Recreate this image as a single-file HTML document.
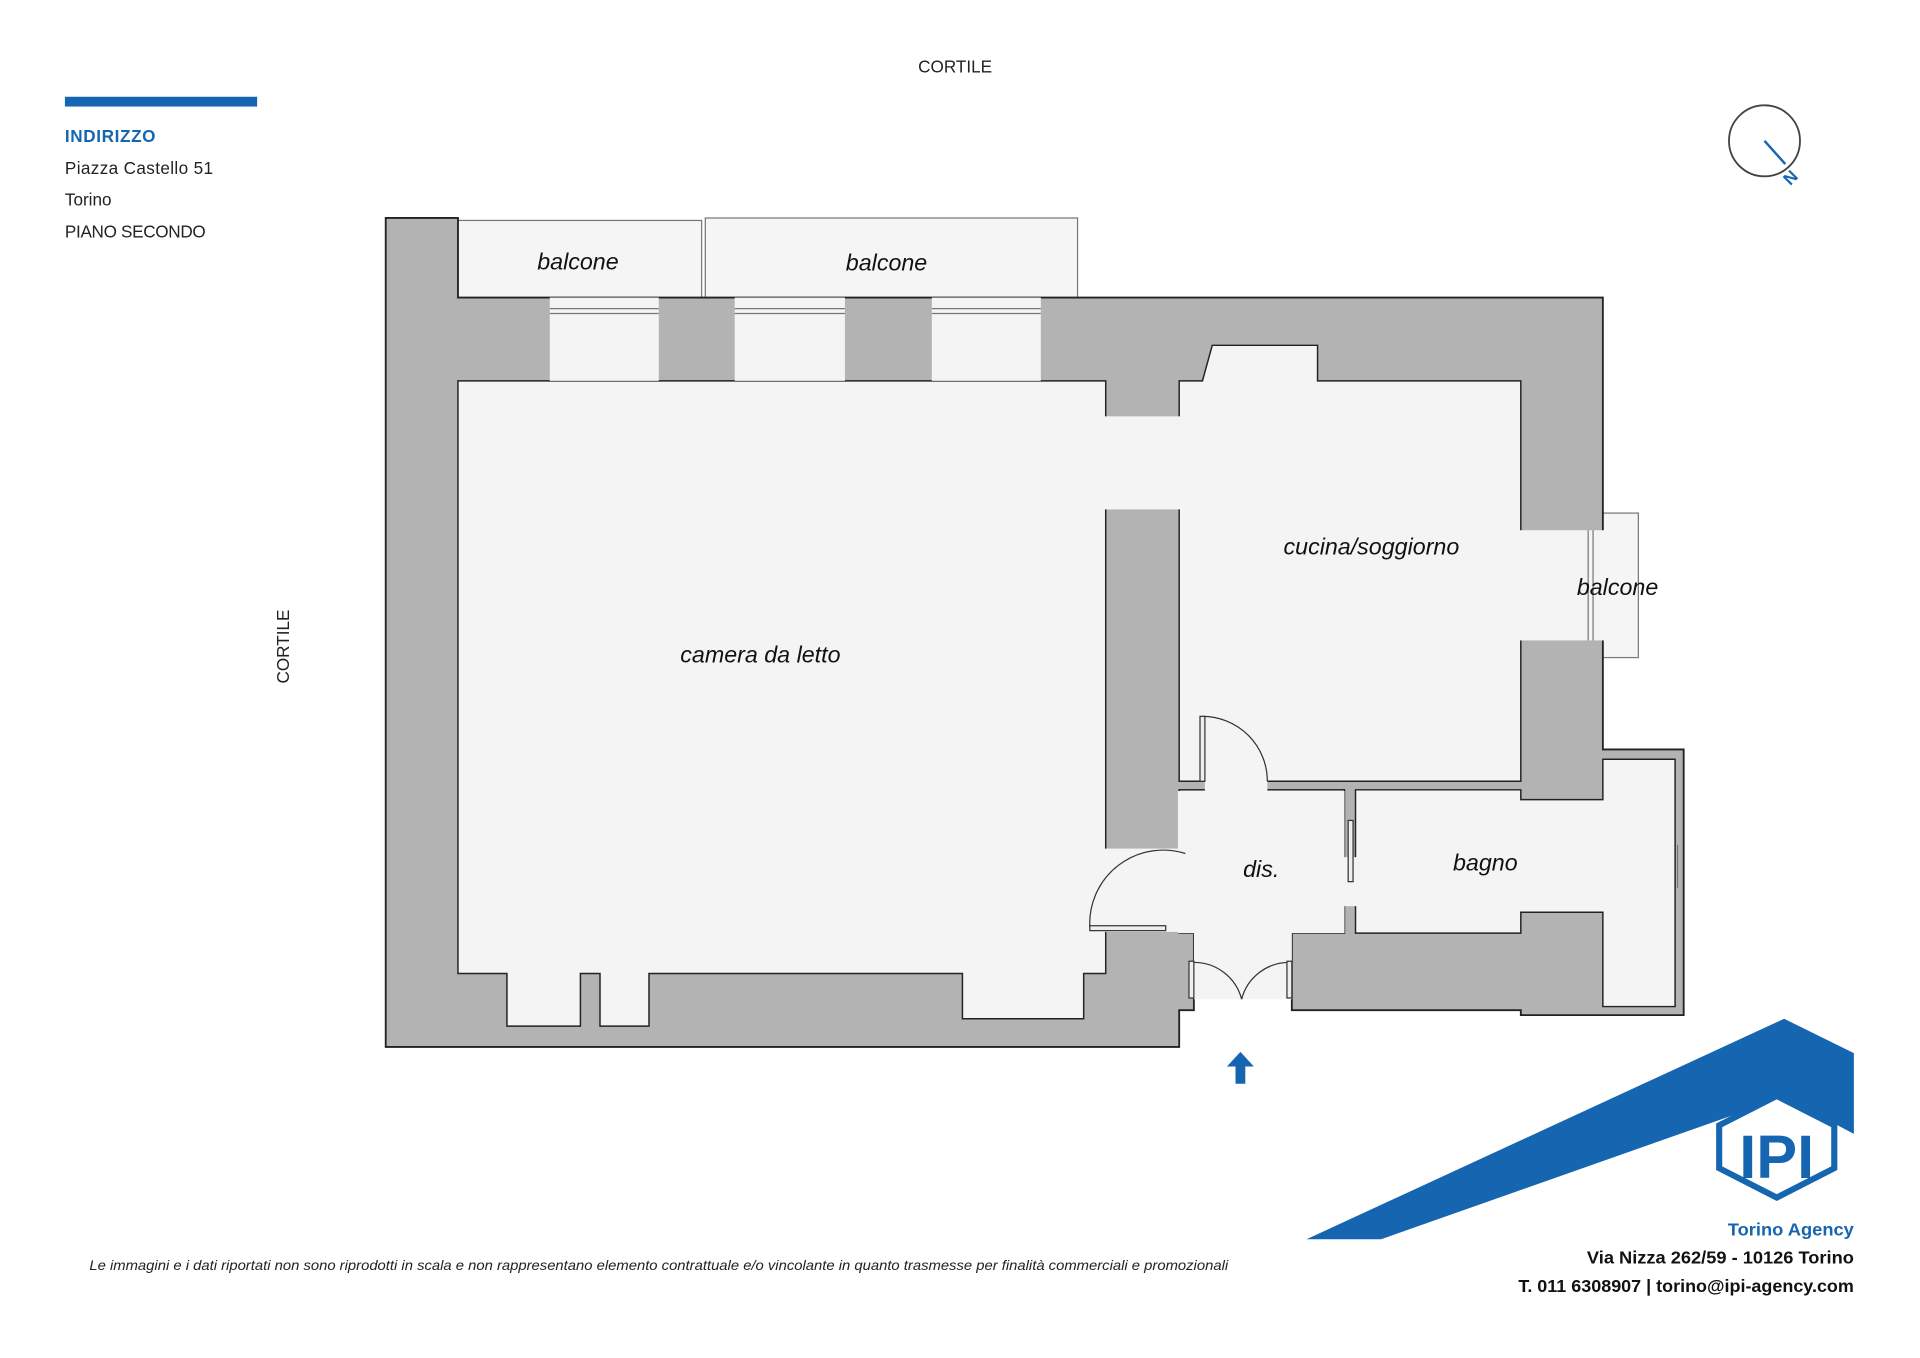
<!DOCTYPE html>
<html><head><meta charset="utf-8"><style>
html,body{margin:0;padding:0;background:#fff}
svg{display:block}
text{font-family:"Liberation Sans",sans-serif}
</style></head><body>
<svg width="1920" height="1358" viewBox="0 0 1568 1109" xmlns="http://www.w3.org/2000/svg">
<rect width="1568" height="1109" fill="#fff"/>
<text x="780" y="59" font-size="14" text-anchor="middle" fill="#222">CORTILE</text>
<text transform="translate(236,528) rotate(-90)" font-size="14" text-anchor="middle" fill="#222">CORTILE</text>
<rect x="53" y="79" width="157" height="8" fill="#1565b0"/>
<text x="53" y="116" font-size="14" font-weight="bold" fill="#1565b0" textLength="74">INDIRIZZO</text>
<text x="53" y="142" font-size="14" fill="#222" textLength="121">Piazza Castello 51</text>
<text x="53" y="168" font-size="14" fill="#222">Torino</text>
<text x="53" y="194" font-size="14" fill="#222" textLength="115">PIANO SECONDO</text>

<circle cx="1441" cy="115" r="29" fill="none" stroke="#444" stroke-width="1.5"/>
<line x1="1441" y1="115" x2="1458" y2="134" stroke="#1565b0" stroke-width="2"/>
<text transform="translate(1462,152) rotate(-45)" font-size="14" font-weight="bold" fill="#1565b0">N</text>

<rect x="374" y="180" width="199" height="63" fill="#f5f5f5" stroke="#777" stroke-width="1"/>
<rect x="576" y="178" width="304" height="65" fill="#f5f5f5" stroke="#777" stroke-width="1"/>
<rect x="1309" y="419" width="29" height="118" fill="#f5f5f5" stroke="#777" stroke-width="1"/>

<polygon points="315,178 374,178 374,243 1309,243 1309,612 1375,612 1375,829 1242,829 1242,825 1055,825 1055,762 975,762 975,825 963,825 963,855 315,855" fill="#b3b3b3" stroke="#222" stroke-width="1.5"/>

<g fill="#f4f4f4" stroke="#222" stroke-width="1.2">
<polygon points="374,311 903,311 903,795 885,795 885,832 786,832 786,795 530,795 530,838 490,838 490,795 474,795 474,838 414,838 414,795 374,795"/>
<polygon points="963,311 982,311 990,282 1076,282 1076,311 1242,311 1242,638 963,638"/>
<polygon points="1107,645 1242,645 1242,653 1309,653 1309,620 1368,620 1368,822 1309,822 1309,745 1242,745 1242,762 1107,762"/>
<rect x="963" y="645" width="135" height="117"/>
</g>
<g fill="#f4f4f4">
<rect x="449" y="243" width="89" height="68"/>
<rect x="600" y="243" width="90" height="68"/>
<rect x="761" y="243" width="89" height="68"/>
<rect x="902" y="340" width="62" height="76"/>
<rect x="902" y="693" width="62" height="68"/>
<rect x="1241" y="433" width="69" height="90"/>
<rect x="962" y="646" width="136" height="116"/>
<rect x="975" y="761" width="80" height="55"/>
<rect x="1097" y="700" width="11" height="40"/>
<rect x="984" y="637" width="51" height="9"/>
</g>
<g stroke="#777" stroke-width="1">
<line x1="449" y1="252" x2="538" y2="252"/><line x1="449" y1="256" x2="538" y2="256"/>
<line x1="600" y1="252" x2="690" y2="252"/><line x1="600" y1="256" x2="690" y2="256"/>
<line x1="761" y1="252" x2="850" y2="252"/><line x1="761" y1="256" x2="850" y2="256"/>
<line x1="1297" y1="433" x2="1297" y2="523"/><line x1="1301" y1="433" x2="1301" y2="523"/>
<line x1="1370" y1="690" x2="1370" y2="725"/>
</g>
<g fill="none" stroke="#333" stroke-width="1">
<path d="M982,585 A53,53 0 0 1 1035,638"/>
<rect x="980" y="585" width="4" height="53" fill="#eee"/>
<path d="M968,697 A60,60 0 0 0 890,757"/>
<rect x="890" y="756" width="62" height="4" fill="#eee"/>
<path d="M974,786 A40,40 0 0 1 1014,816"/>
<path d="M1054,786 A40,40 0 0 0 1014,816"/>
<rect x="971" y="785" width="4" height="30" fill="#eee"/>
<rect x="1051" y="785" width="4" height="30" fill="#eee"/>
<rect x="1101" y="670" width="4" height="50" fill="#eee"/>
</g>
<polygon points="1013,859 1024,871 1017,871 1017,885 1009,885 1009,871 1002,871" fill="#1565b0"/>

<g font-size="19" font-style="italic" fill="#111" text-anchor="middle">
<text x="472" y="220">balcone</text>
<text x="724" y="221">balcone</text>
<text x="1120" y="453">cucina/soggiorno</text>
<text x="1321" y="486">balcone</text>
<text x="621" y="541">camera da letto</text>
<text x="1030" y="716">dis.</text>
<text x="1213" y="711">bagno</text>
</g>

<text x="73" y="1037" font-size="11.3" font-style="italic" fill="#222" textLength="930" lengthAdjust="spacingAndGlyphs">Le immagini e i dati riportati non sono riprodotti in scala e non rappresentano elemento contrattuale e/o vincolante in quanto trasmesse per finalità commerciali e promozionali</text>

<polygon points="1067,1012 1457,832 1514,860 1514,926 1457,896 1128,1012" fill="#1565b0"/>
<polygon points="1451,895 1498,919 1498,954 1451,978 1404,954 1404,919" fill="#fff" stroke="#1565b0" stroke-width="5"/>
<text x="1451" y="962" font-size="50" font-weight="bold" font-family="Liberation Serif,serif" text-anchor="middle" fill="#1565b0">IPI</text>
<text x="1514" y="1009" font-size="14" font-weight="bold" text-anchor="end" fill="#1565b0" textLength="103" lengthAdjust="spacingAndGlyphs">Torino Agency</text>
<text x="1514" y="1032" font-size="14" font-weight="bold" text-anchor="end" fill="#111" textLength="218" lengthAdjust="spacingAndGlyphs">Via Nizza 262/59 - 10126 Torino</text>
<text x="1514" y="1055" font-size="14" font-weight="bold" text-anchor="end" fill="#111" textLength="274" lengthAdjust="spacingAndGlyphs">T. 011 6308907 | torino@ipi-agency.com</text>
</svg>
</body></html>
